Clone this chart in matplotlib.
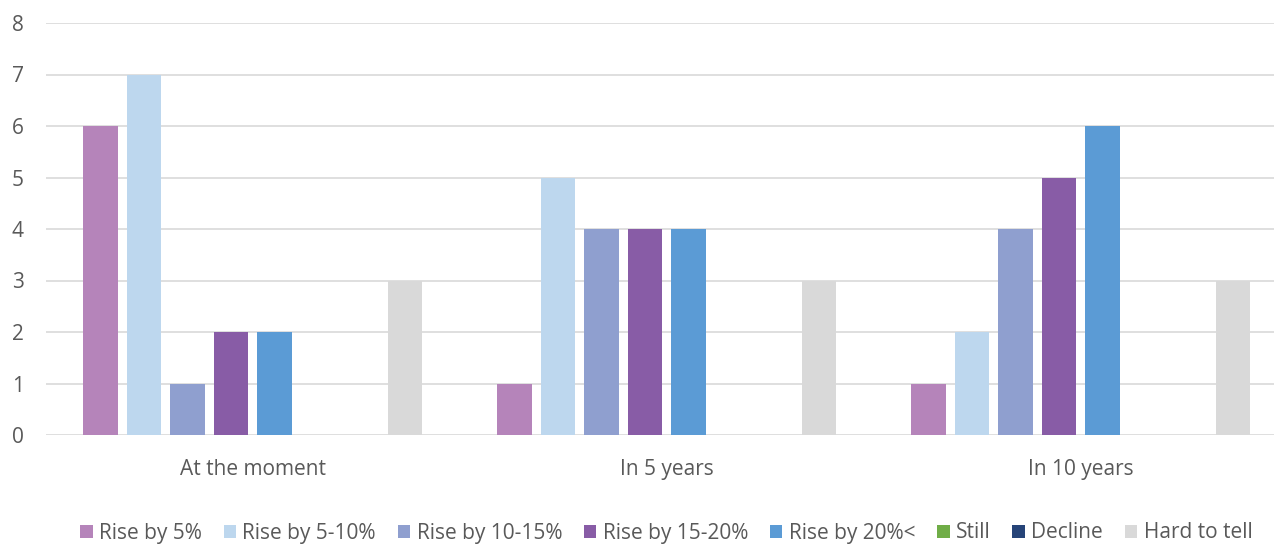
import matplotlib
matplotlib.use("Agg")
import matplotlib.pyplot as plt
import numpy as np

categories = ["At the moment", "In 5 years", "In 10 years"]
series_names = ["Rise by 5%", "Rise by 5-10%", "Rise by 10-15%", "Rise by 15-20%",
                "Rise by 20%<", "Still", "Decline", "Hard to tell"]
rise5 = [6, 1, 1]
rise5_10 = [7, 5, 2]
rise10_15 = [1, 4, 4]
rise15_20 = [2, 4, 5]
rise20 = [2, 4, 6]
still = [0, 0, 0]
decline = [0, 0, 0]
hard = [3, 3, 3]
series_values = [rise5, rise5_10, rise10_15, rise15_20, rise20, still, decline, hard]
colors = ["#B584BA", "#BDD7EE", "#8F9FCF", "#885CA6", "#5B9BD5", "#70AD47", "#264478", "#D9D9D9"]

plt.rcParams['font.family'] = ['Open Sans', 'DejaVu Sans']
W, H = 1274, 544
fig = plt.figure(figsize=(W/100, H/100), dpi=100)
left_px, right_px, top_px, bottom_px = 46, 1287.5, 23, 435
ax = fig.add_axes([left_px/W, (H-bottom_px)/H, (right_px-left_px)/W, (bottom_px-top_px)/H])

x = np.arange(len(categories))
grp = (right_px - left_px) / 3
step = 43.5/grp
width = 34.4/grp
handles = []
for i, (name, vals, c) in enumerate(zip(series_names, series_values, colors)):
    b = ax.bar(x + (i - 3.5)*step, vals, width, color=c, label=name, zorder=3)
    handles.append(b)

ax.set_xlim(-0.5, 2.5)
ax.set_ylim(0, 8)
ax.set_yticks(range(0, 9))
ax.yaxis.grid(True, color="#D9D9D9", linewidth=1.2, zorder=0)
ax.set_axisbelow(True)
for s in ax.spines.values():
    s.set_visible(False)
ax.tick_params(axis='both', length=0, colors="#595959", labelsize=15)
ax.tick_params(axis='y', pad=16)
ax.tick_params(axis='x', pad=17)
ax.set_xticks(x)
ax.set_xticklabels(categories)

fig.legend(handles=handles, labels=series_names, loc="center", ncol=8,
           bbox_to_anchor=(0.523, 11/H), frameon=False, fontsize=15,
           handlelength=0.6, handleheight=0.6, handletextpad=0.3, columnspacing=1.05,
           labelcolor="#595959", borderpad=0)

fig.savefig("out.png", dpi=100)
